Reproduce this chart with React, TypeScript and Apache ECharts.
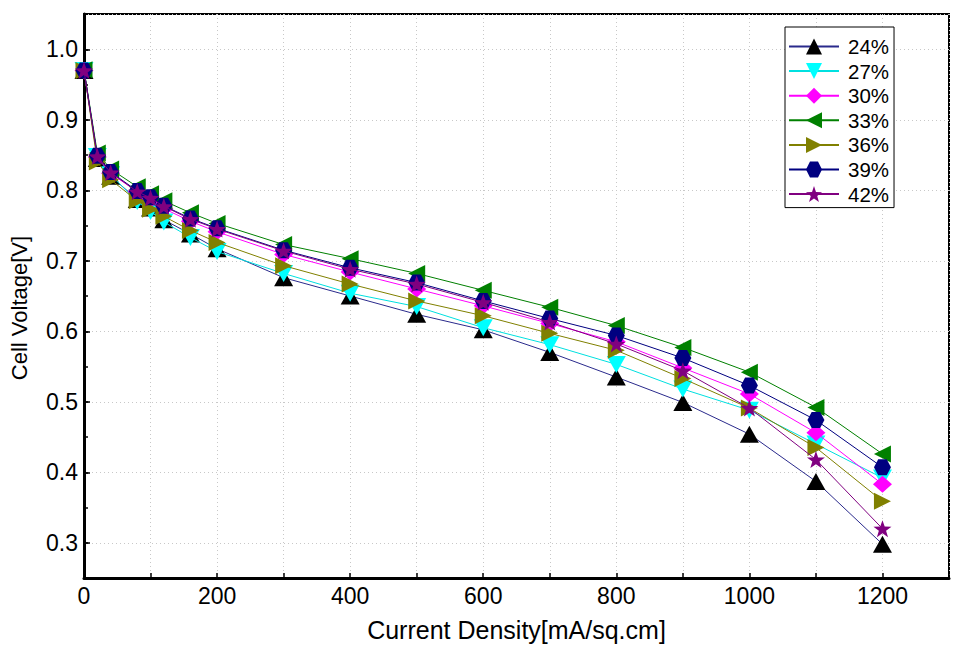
import React, { useEffect, useRef } from "react";
import * as echarts from "echarts";

const currentDensity = [0, 20, 40, 80, 100, 120, 160, 200, 300, 400, 500, 600, 700, 800, 900, 1000, 1100, 1200];

const v24 = [0.970, 0.845, 0.820, 0.787, 0.775, 0.758, 0.738, 0.717, 0.676, 0.650, 0.624, 0.602, 0.570, 0.535, 0.499, 0.454, 0.387, 0.298];
const v27 = [0.970, 0.848, 0.822, 0.784, 0.770, 0.755, 0.733, 0.713, 0.682, 0.654, 0.635, 0.605, 0.581, 0.553, 0.518, 0.488, 0.440, 0.392];
const v30 = [0.970, 0.847, 0.824, 0.798, 0.787, 0.774, 0.756, 0.741, 0.709, 0.684, 0.660, 0.636, 0.611, 0.585, 0.548, 0.511, 0.456, 0.383];
const v33 = [0.971, 0.853, 0.830, 0.805, 0.795, 0.785, 0.768, 0.753, 0.723, 0.703, 0.682, 0.658, 0.634, 0.608, 0.577, 0.542, 0.492, 0.426];
const v36 = [0.970, 0.840, 0.815, 0.785, 0.773, 0.763, 0.743, 0.726, 0.693, 0.667, 0.643, 0.622, 0.597, 0.573, 0.533, 0.491, 0.435, 0.359];
const v39 = [0.970, 0.849, 0.826, 0.799, 0.790, 0.778, 0.760, 0.746, 0.715, 0.690, 0.669, 0.643, 0.618, 0.594, 0.562, 0.523, 0.474, 0.407];
const v42 = [0.970, 0.848, 0.825, 0.798, 0.789, 0.777, 0.759, 0.745, 0.714, 0.688, 0.667, 0.641, 0.613, 0.582, 0.544, 0.491, 0.418, 0.320];

const seriesNames = ["24%", "27%", "30%", "33%", "36%", "39%", "42%"];
const seriesValues = [v24, v27, v30, v33, v36, v39, v42];

const STAR =
  "path://M50 0 L61.76 33.82 L97.55 34.55 L69.02 56.18 L79.39 90.45 L50 70 L20.61 90.45 L30.98 56.18 L2.45 34.55 L38.24 33.82 Z";
const HEX = "path://M0 50 L25 6.7 L75 6.7 L100 50 L75 93.3 L25 93.3 Z";

const styles = [
  { marker: "#000000", line: "#2a2a8c", symbol: "triangle", rotate: 0, size: [19, 17] },
  { marker: "#00ffff", line: "#00e0e0", symbol: "triangle", rotate: 180, size: [19, 17] },
  { marker: "#ff00ff", line: "#ff00ff", symbol: "diamond", rotate: 0, size: [19, 17] },
  { marker: "#008000", line: "#008000", symbol: "triangle", rotate: 90, size: [17, 17] },
  { marker: "#808000", line: "#808000", symbol: "triangle", rotate: -90, size: [17, 17] },
  { marker: "#000080", line: "#000080", symbol: HEX, rotate: 0, size: [17, 16] },
  { marker: "#800080", line: "#800080", symbol: STAR, rotate: 0, size: [18, 17] },
];

const FONT = "'Liberation Sans', Arial, sans-serif";

export default function App() {
  const ref = useRef<HTMLDivElement>(null);

  useEffect(() => {
    if (!ref.current) return;
    const chart = echarts.init(ref.current, null, { renderer: "svg" });
    const series = seriesNames.map((name, i) => ({
      name,
      type: "line",
      data: currentDensity.map((x, j) => [x, seriesValues[i][j]]),
      symbol: styles[i].symbol,
      symbolSize: styles[i].size,
      symbolRotate: styles[i].rotate,
      showAllSymbol: true,
      lineStyle: { color: styles[i].line, width: 1 },
      itemStyle: { color: styles[i].marker, borderWidth: 0 },
      z: 3 + i,
    }));

    chart.setOption({
      animation: false,
      backgroundColor: "#ffffff",
      textStyle: { fontFamily: FONT },
      grid: {
        left: 84,
        right: 17,
        top: 14,
        bottom: 76,
        show: true,
        borderColor: "#000",
        borderWidth: 2,
        backgroundColor: "transparent",
      },
      legend: {
        orient: "vertical",
        left: 785,
        top: 27,
        padding: [9, 5, 3, 3],
        itemWidth: 50,
        itemHeight: 20,
        itemGap: 3.6,
        borderColor: "#000",
        borderWidth: 1,
        backgroundColor: "#fff",
        textStyle: { fontFamily: FONT, fontSize: 20.5, lineHeight: 20, color: "#000", padding: [0, 0, 0, 4] },
        data: seriesNames,
      },
      xAxis: {
        type: "value",
        min: 0,
        max: 1300,
        interval: 100,
        name: "Current Density[mA/sq.cm]",
        nameLocation: "middle",
        nameGap: 39,
        nameTextStyle: { fontFamily: FONT, fontSize: 25, color: "#000" },
        axisLine: { show: true, onZero: false, lineStyle: { color: "#000", width: 3 } },
        axisTick: { show: true, inside: true, length: 5, lineStyle: { color: "#000", width: 1.5 } },
        axisLabel: {
          fontFamily: FONT,
          fontSize: 23,
          color: "#000",
          margin: 6,
          formatter: (v: number) => (v % 200 === 0 ? String(v) : ""),
        },
        splitLine: { show: true, lineStyle: { color: "#c8c8c8", type: [1, 3], width: 1 } },
      },
      yAxis: [
        {
          type: "value",
          min: 0.25,
          max: 1.05,
          splitNumber: 8,
          name: "Cell Voltage[V]",
          nameLocation: "middle",
          nameGap: 54,
          nameTextStyle: { fontFamily: FONT, fontSize: 22, color: "#000", padding: [0, 24, 0, 0] },
          axisLine: { show: true, onZero: false, lineStyle: { color: "#000", width: 3 } },
          axisTick: { show: true, inside: true, length: 6, lineStyle: { color: "#000", width: 1.5 } },
          axisLabel: {
            fontFamily: FONT,
            fontSize: 23,
            color: "#000",
            margin: 6,
            showMinLabel: false,
            showMaxLabel: false,
            formatter: (v: number) => v.toFixed(1),
          },
          splitLine: { show: true, lineStyle: { color: "#c8c8c8", type: [1, 3], width: 1 } },
        },
        {
          type: "value",
          min: 0.25,
          max: 1.05,
          interval: 0.05,
          position: "left",
          axisLine: { show: false },
          axisTick: { show: true, inside: true, length: 4, lineStyle: { color: "#000", width: 1.5 } },
          axisLabel: { show: false },
          splitLine: { show: false },
        },
      ],
      series,
    });
    return () => chart.dispose();
  }, []);

  return (
    <div
      ref={ref}
      style={{ position: "absolute", left: 0, top: 0, width: 966, height: 654 }}
    />
  );
}
